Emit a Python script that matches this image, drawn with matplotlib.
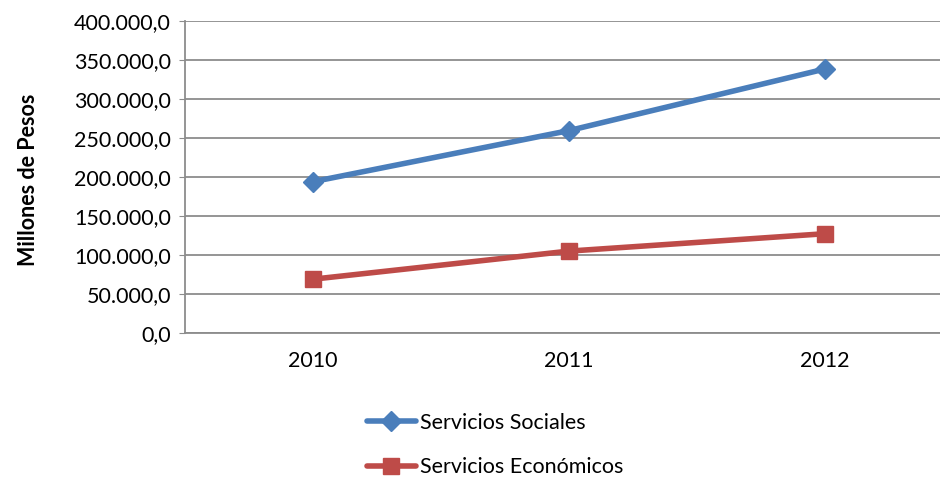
import numpy as np
import matplotlib.pyplot as plt
from matplotlib.ticker import FuncFormatter

years = ["2010", "2011", "2012"]
sociales = [194000, 259500, 338500]
economicos = [69000, 105000, 127300]
y_ticks = [0, 50000, 100000, 150000, 200000, 250000, 300000, 350000, 400000]

plt.rcParams['font.family'] = ['Lato', 'DejaVu Sans']

fig = plt.figure(figsize=(9.4, 4.78), dpi=100)
# plot area runs past the right edge like in the original image
ax = fig.add_axes([185 / 940, 1 - 333 / 478, 768 / 940, 312 / 478])

x = np.arange(len(years))
ax.plot(x, sociales, color="#4a7ebb", lw=4, marker="D", ms=10,
        label="Servicios Sociales", solid_capstyle="round", zorder=3)
ax.plot(x, economicos, color="#be4b48", lw=4, marker="s", ms=12,
        label="Servicios Económicos", solid_capstyle="round", zorder=3)

ax.set_xlim(-0.5, 2.5)
ax.set_ylim(0, 400000)
ax.set_yticks(y_ticks)
ax.yaxis.set_major_formatter(FuncFormatter(
    lambda v, p: f"{v:,.1f}".replace(",", "X").replace(".", ",").replace("X", ".")))
ax.set_xticks(x)
ax.set_xticklabels(years)
ax.grid(axis="y", color="#8c8c8c", lw=1.3)
ax.set_axisbelow(True)
for s in ["top", "right"]:
    ax.spines[s].set_visible(False)
for s in ["left", "bottom"]:
    ax.spines[s].set_color("#8c8c8c")
    ax.spines[s].set_linewidth(1.3)
ax.tick_params(axis="y", length=4, color="#8c8c8c", labelsize=15.5, pad=6)
ax.tick_params(axis="x", length=0, labelsize=15.5, pad=13)
ax.set_ylabel("Millones de Pesos", fontsize=15.5, fontweight="bold")
ax.yaxis.set_label_coords(-0.19, 0.49)

leg = fig.legend(loc="upper left", bbox_to_anchor=(358 / 940, 1 - 404 / 478),
                 frameon=False, fontsize=15.5, handlelength=2.3, labelspacing=1.15,
                 handletextpad=0.2, borderaxespad=0)

fig.savefig("out.png", dpi=100)
